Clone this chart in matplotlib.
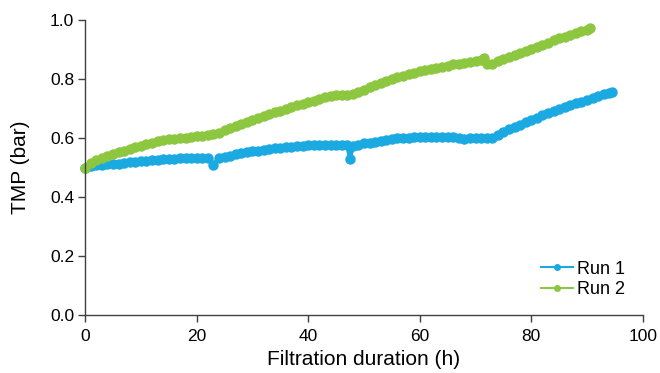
import matplotlib
matplotlib.use("Agg")
import matplotlib.pyplot as plt
from matplotlib.ticker import FormatStrFormatter

run1_t = [0, 1, 2, 3, 4, 5, 6, 7, 8, 9, 10, 11, 12, 13, 14, 15, 16, 17, 18, 19,
          20, 21, 22, 23, 24, 25, 26, 27, 28, 29, 30, 31, 32, 33, 34, 35, 36, 37, 38, 39,
          40, 41, 42, 43, 44, 45, 46, 47, 47.5, 48, 49, 50, 51, 52, 53, 54, 55, 56, 57, 58, 59,
          60, 61, 62, 63, 64, 65, 66, 67, 68, 69, 70, 71, 72, 73, 74, 75, 76, 77, 78, 79,
          80, 81, 82, 83, 84, 85, 86, 87, 88, 89, 90, 91, 92, 93, 94, 94.5]
run1_tmp = [0.500, 0.505, 0.508, 0.510, 0.511, 0.512, 0.514, 0.516, 0.518, 0.520,
            0.521, 0.523, 0.525, 0.527, 0.529, 0.530, 0.531, 0.532, 0.533, 0.532,
            0.532, 0.532, 0.532, 0.510, 0.533, 0.536, 0.540, 0.545, 0.549, 0.552,
            0.555, 0.558, 0.561, 0.563, 0.565, 0.567, 0.569, 0.571, 0.573, 0.575,
            0.576, 0.577, 0.577, 0.577, 0.577, 0.576, 0.576, 0.576, 0.530, 0.575, 0.578,
            0.582, 0.585, 0.588, 0.591, 0.594, 0.596, 0.599, 0.601, 0.602, 0.603,
            0.604, 0.604, 0.605, 0.605, 0.604, 0.604, 0.603, 0.602, 0.598, 0.602,
            0.601, 0.600, 0.600, 0.601, 0.610, 0.620, 0.630, 0.638, 0.646, 0.654,
            0.662, 0.670, 0.677, 0.684, 0.692, 0.699, 0.706, 0.712, 0.718, 0.724,
            0.730, 0.736, 0.742, 0.748, 0.752, 0.756]

run2_t = [0, 1, 2, 3, 4, 5, 6, 7, 8, 9, 10, 11, 12, 13, 14, 15, 16, 17, 18, 19,
          20, 21, 22, 23, 24, 25, 26, 27, 28, 29, 30, 31, 32, 33, 34, 35, 36, 37, 38, 39,
          40, 41, 42, 43, 44, 45, 46, 47, 48, 49, 50, 51, 52, 53, 54, 55, 56, 57, 58, 59,
          60, 61, 62, 63, 64, 65, 66, 67, 68, 69, 70, 71, 71.5, 72, 73, 74, 75, 76, 77, 78, 79,
          80, 81, 82, 83, 84, 85, 86, 87, 88, 89, 90, 90.5]
run2_tmp = [0.500, 0.515, 0.525, 0.532, 0.538, 0.545, 0.552, 0.558, 0.564, 0.570,
            0.575, 0.580, 0.585, 0.589, 0.593, 0.596, 0.598, 0.600, 0.602, 0.604,
            0.606, 0.608, 0.611, 0.614, 0.618, 0.626, 0.634, 0.641, 0.648, 0.655,
            0.662, 0.669, 0.675, 0.681, 0.687, 0.693, 0.699, 0.705, 0.711, 0.716,
            0.721, 0.727, 0.733, 0.739, 0.743, 0.745, 0.746, 0.747, 0.749, 0.756,
            0.764, 0.772, 0.779, 0.786, 0.793, 0.799, 0.806, 0.811, 0.816, 0.821,
            0.826, 0.830, 0.834, 0.838, 0.842, 0.846, 0.850, 0.853, 0.856, 0.858,
            0.861, 0.866, 0.872, 0.850, 0.852, 0.860, 0.868, 0.875, 0.882, 0.889, 0.896,
            0.903, 0.910, 0.917, 0.924, 0.931, 0.938, 0.944, 0.951, 0.957, 0.963,
            0.968, 0.972]

x_ticks = [0, 20, 40, 60, 80, 100]
y_ticks = [0.0, 0.2, 0.4, 0.6, 0.8, 1.0]

plt.rcParams['font.family'] = ['Liberation Sans', 'DejaVu Sans']

fig = plt.figure(figsize=(6.6, 3.73), dpi=100)
ax = fig.add_axes([0.129, 0.155, 0.845, 0.791])

blue = '#1AA9E1'
green = '#8DC63F'
ax.plot(run1_t, run1_tmp, color=blue, lw=3, marker='o', ms=6.5, label='Run 1', clip_on=False)
ax.plot(run2_t, run2_tmp, color=green, lw=3, marker='o', ms=6.5, label='Run 2', clip_on=False)

ax.set_xlim(0, 100)
ax.set_ylim(0, 1.0)
ax.set_xticks(x_ticks)
ax.set_yticks(y_ticks)
ax.yaxis.set_major_formatter(FormatStrFormatter('%.1f'))
ax.spines['top'].set_visible(False)
ax.spines['right'].set_visible(False)
for s in ('left', 'bottom'):
    ax.spines[s].set_color('#404040')
    ax.spines[s].set_linewidth(1)
ax.tick_params(direction='out', length=5, width=1, color='#404040', labelsize=12.5)
ax.tick_params(axis='x', pad=5)
ax.tick_params(axis='y', pad=3)
ax.set_xlabel('Filtration duration (h)', fontsize=15, labelpad=4)
ax.set_ylabel('TMP (bar)', fontsize=15, labelpad=14)

leg = ax.legend(loc='lower right', frameon=False, fontsize=13, handlelength=1.8,
                handletextpad=0.2, borderaxespad=0.3, labelspacing=0.2,
                bbox_to_anchor=(0.99, 0.015))
for ln in leg.get_lines():
    ln.set_linewidth(1.5)
    ln.set_markersize(4)

fig.savefig('out.png', dpi=100)
